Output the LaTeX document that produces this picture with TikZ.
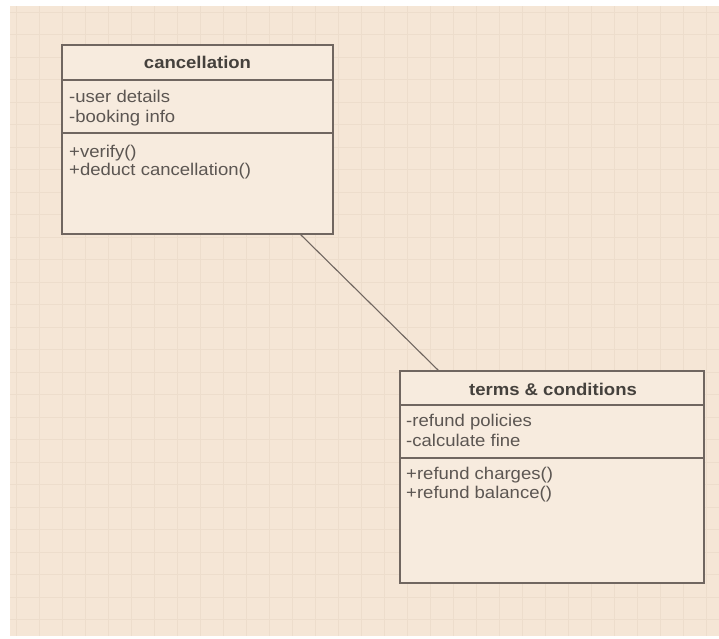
\documentclass[tikz,border=0pt]{standalone}
\usepackage{fontspec}
\setmainfont{Liberation Sans}
\newfontfamily\umlfont[FakeStretch=1.09]{Liberation Sans}
\usetikzlibrary{positioning,calc}
\definecolor{paper}{RGB}{245,230,214}
\definecolor{gridline}{RGB}{237,221,204}
\definecolor{boxline}{RGB}{112,102,96}
\definecolor{ink}{RGB}{92,86,82}
\tikzset{
  classbox/.style={draw=boxline, line width=1.4pt, fill=paper!80!white, inner sep=0pt},
  classname/.style={font=\umlfont\bfseries\fontsize{17}{20}\selectfont, text=ink!75!black, anchor=base, inner sep=0pt},
  member/.style={font=\umlfont\fontsize{17}{20}\selectfont, text=ink, anchor=base west, inner sep=0pt}
}

\begin{document}
\begin{tikzpicture}[x=1pt, y=-1pt]
\useasboundingbox (0,0) rectangle (719,638);
% Paper and grid
\fill[paper] (10,6) rectangle (719,636);
\foreach \x in {16,39,...,719} {
    \draw[gridline, line width=0.6pt] (\x,6) -- (\x,636);
}
\foreach \y in {12,34.5,...,636} {
    \draw[gridline, line width=0.6pt] (10,\y) -- (719,\y);
}

% Class: cancellation
\node[classbox, minimum width=271pt, minimum height=189pt] (cancel) at (197.5,139.5) {};
\draw[boxline, line width=1.4pt] (62,80) -- (333,80);
\draw[boxline, line width=1.4pt] (62,133) -- (333,133);
\node[classname] (cancelname) at (197.5,68) {cancellation};
\node[member] (cancelattra) at (69,102) {-user details};
\node[member] (cancelattrb) at (69,122) {-booking info};
\node[member] (cancelopsa) at (69,157) {+verify()};
\node[member] (cancelopsb) at (69,175) {+deduct cancellation()};

% Class: terms & conditions
\node[classbox, minimum width=304pt, minimum height=212pt] (terms) at (552,477) {};
\draw[boxline, line width=1.4pt] (400,405) -- (704,405);
\draw[boxline, line width=1.4pt] (400,458) -- (704,458);
\node[classname] (termsname) at (553,395) {terms \& conditions};
\node[member] (termsattra) at (406,426) {-refund policies};
\node[member] (termsattrb) at (406,446) {-calculate fine};
\node[member] (termsopsa) at (406,479) {+refund charges()};
\node[member] (termsopsb) at (406,498) {+refund balance()};

% Association
\coordinate (assocstart) at ($(cancel.south east)+(-33,0)$);
\coordinate (assocend) at ($(terms.north west)+(39,0)$);
\draw[boxline, line width=1.1pt] (assocstart) -- (assocend);
\end{tikzpicture}
\end{document}
